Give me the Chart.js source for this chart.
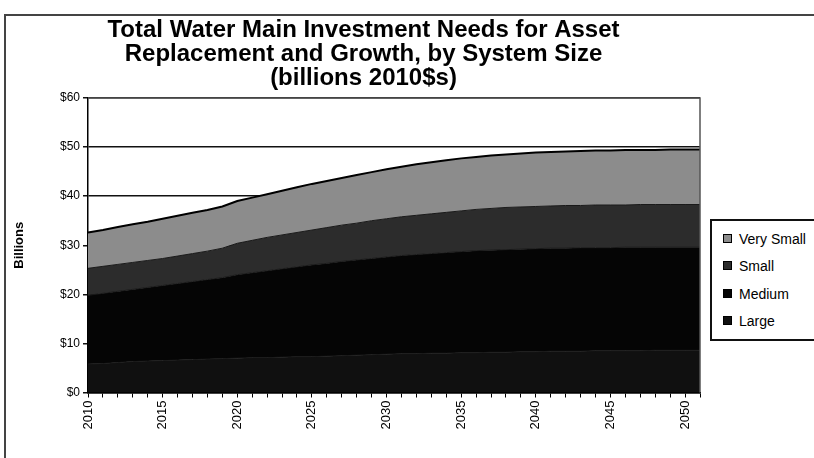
<!DOCTYPE html>
<html>
<head>
<meta charset="utf-8">
<script src="https://cdn.jsdelivr.net/npm/chart.js@4"></script>
<style>
  body { margin: 0; background: #fff; font-family: "Liberation Sans", Arial, sans-serif; }
  #frame { position: absolute; left: 4px; top: 14px; width: 830px; height: 470px; border: 2px solid #444; }
  #wrap { position: absolute; left: 6px; top: 16px; width: 724px; height: 442px; }
  #legend { position: absolute; left: 710px; top: 219px; width: 120px; height: 118px; border: 2px solid #111; background: #fff; }
  .item { position: absolute; left: 11px; font-size: 14px; color: #000; line-height: 16px; }
  .sw { display: inline-block; width: 7px; height: 7px; border: 1px solid #000; margin-right: 7px; vertical-align: 1px; }
</style>
</head>
<body>
<div id="frame"></div>
<div id="wrap"><canvas id="chart"></canvas></div>
<div id="legend"></div>
<script>
// Años 2010-2051 (solo se rotulan los múltiplos de 5)
const years = [];
for (let y = 2010; y <= 2051; y++) years.push(String(y));

const seriesNames = ['Large', 'Medium', 'Small', 'Very Small'];
const seriesColors = ['#101010', '#050505', '#2c2c2c', '#8c8c8c'];

// Valores por serie, miles de millones de $ 2010
const large = [5.8, 5.9, 6.1, 6.3, 6.4, 6.5, 6.6, 6.7, 6.8, 6.9, 7.0, 7.1, 7.1, 7.2, 7.3, 7.3, 7.4, 7.5, 7.6, 7.7, 7.8,
  7.9, 7.9, 8.0, 8.0, 8.1, 8.1, 8.2, 8.2, 8.3, 8.3, 8.4, 8.4, 8.4, 8.5, 8.5, 8.5, 8.5, 8.6, 8.6, 8.6, 8.6];
const medium = [14.0, 14.3, 14.5, 14.7, 15.0, 15.3, 15.6, 15.9, 16.2, 16.5, 17.0, 17.3, 17.7, 18.0, 18.3, 18.7, 18.9, 19.2, 19.4, 19.6, 19.8,
  20.0, 20.2, 20.3, 20.5, 20.6, 20.8, 20.8, 20.9, 20.9, 21.0, 21.0, 21.0, 21.1, 21.0, 21.0, 21.1, 21.1, 21.0, 21.0, 21.0, 21.0];
const small = [5.5, 5.5, 5.5, 5.5, 5.5, 5.5, 5.6, 5.7, 5.8, 6.0, 6.4, 6.6, 6.8, 6.9, 7.0, 7.1, 7.3, 7.4, 7.5, 7.7, 7.8,
  7.9, 8.0, 8.1, 8.2, 8.3, 8.4, 8.5, 8.6, 8.6, 8.6, 8.6, 8.7, 8.6, 8.7, 8.7, 8.6, 8.7, 8.7, 8.7, 8.7, 8.7];
const verySmall = [7.3, 7.4, 7.6, 7.8, 7.9, 8.1, 8.2, 8.3, 8.4, 8.5, 8.6, 8.7, 8.8, 9.0, 9.2, 9.4, 9.5, 9.6, 9.8, 9.9, 10.1,
  10.2, 10.4, 10.5, 10.6, 10.7, 10.7, 10.8, 10.8, 10.9, 11.0, 11.0, 11.0, 11.1, 11.1, 11.1, 11.2, 11.1, 11.1, 11.2, 11.2, 11.2];

const yTicks = [0, 10, 20, 30, 40, 50, 60];

// Borde del área de trazado (arriba y derecha)
const plotBorder = {
  id: 'plotBorder',
  afterDatasetsDraw(chart) {
    const { ctx, chartArea: a } = chart;
    ctx.save();
    ctx.strokeStyle = '#555';
    ctx.lineWidth = 1.5;
    ctx.beginPath();
    ctx.moveTo(a.left, a.top);
    ctx.lineTo(a.right, a.top);
    ctx.lineTo(a.right, a.bottom);
    ctx.stroke();
    ctx.restore();
  }
};

const values = [large, medium, small, verySmall];
const datasets = values.map((data, i) => ({
  label: seriesNames[i],
  data,
  backgroundColor: seriesColors[i],
  borderColor: i === 3 ? '#000' : '#1a1a1a',
  borderWidth: i === 3 ? 2 : 1,
  fill: i === 0 ? 'origin' : '-1',
  pointRadius: 0,
  tension: 0
}));

new Chart(document.getElementById('chart'), {
  type: 'line',
  data: { labels: years, datasets },
  options: {
    responsive: true,
    maintainAspectRatio: false,
    animation: false,
    layout: { padding: { left: 21, right: 30, top: 0, bottom: 0 } },
    plugins: {
      legend: { display: false },
      tooltip: { enabled: false },
      title: {
        display: true,
        text: ['Total Water Main Investment Needs for Asset', 'Replacement and Growth, by System Size', '(billions 2010$s)'],
        color: '#000',
        font: { family: '"Liberation Sans", Arial, sans-serif', size: 24, weight: 'bold', lineHeight: 1.0 },
        padding: { top: 2, bottom: 8 }
      }
    },
    scales: {
      x: {
        offset: false,
        grid: { drawOnChartArea: false, drawTicks: true, tickLength: 5, color: '#000', lineWidth: 1 },
        border: { color: '#000', width: 1.5 },
        ticks: {
          autoSkip: false, maxRotation: 90, minRotation: 90, padding: 3,
          color: '#000', font: { family: '"Liberation Sans", Arial', size: 13 },
          callback: (v, i) => (Number(years[i]) % 5 === 0 ? years[i] : '')
        },
        afterFit: s => { s.height = 65.5; }
      },
      y: {
        stacked: true,
        min: 0, max: 60,
        afterBuildTicks: s => { s.ticks = yTicks.map(v => ({ value: v })); },
        grid: { color: '#111', lineWidth: 1.5, tickLength: 5 },
        border: { color: '#000', width: 1.5 },
        ticks: {
          color: '#000', padding: 3, font: { family: '"Liberation Sans", Arial', size: 12 },
          callback: v => '$' + v
        },
        title: {
          display: true, text: 'Billions', color: '#000',
          font: { family: '"Liberation Sans", Arial', size: 13, weight: 'bold' },
          padding: { top: -15, bottom: 0 }
        },
        afterFit: s => { s.width = 61; }
      }
    }
  },
  plugins: [plotBorder]
});

// Leyenda (orden inverso, como en el original)
const legend = document.getElementById('legend');
const rowTops = [10, 37, 65, 92];
[3, 2, 1, 0].forEach((k, r) => {
  const d = document.createElement('div');
  d.className = 'item';
  d.style.top = rowTops[r] + 'px';
  d.innerHTML = '<span class="sw" style="background:' + seriesColors[k] + '"></span>' + seriesNames[k];
  legend.appendChild(d);
});
</script>
</body>
</html>
